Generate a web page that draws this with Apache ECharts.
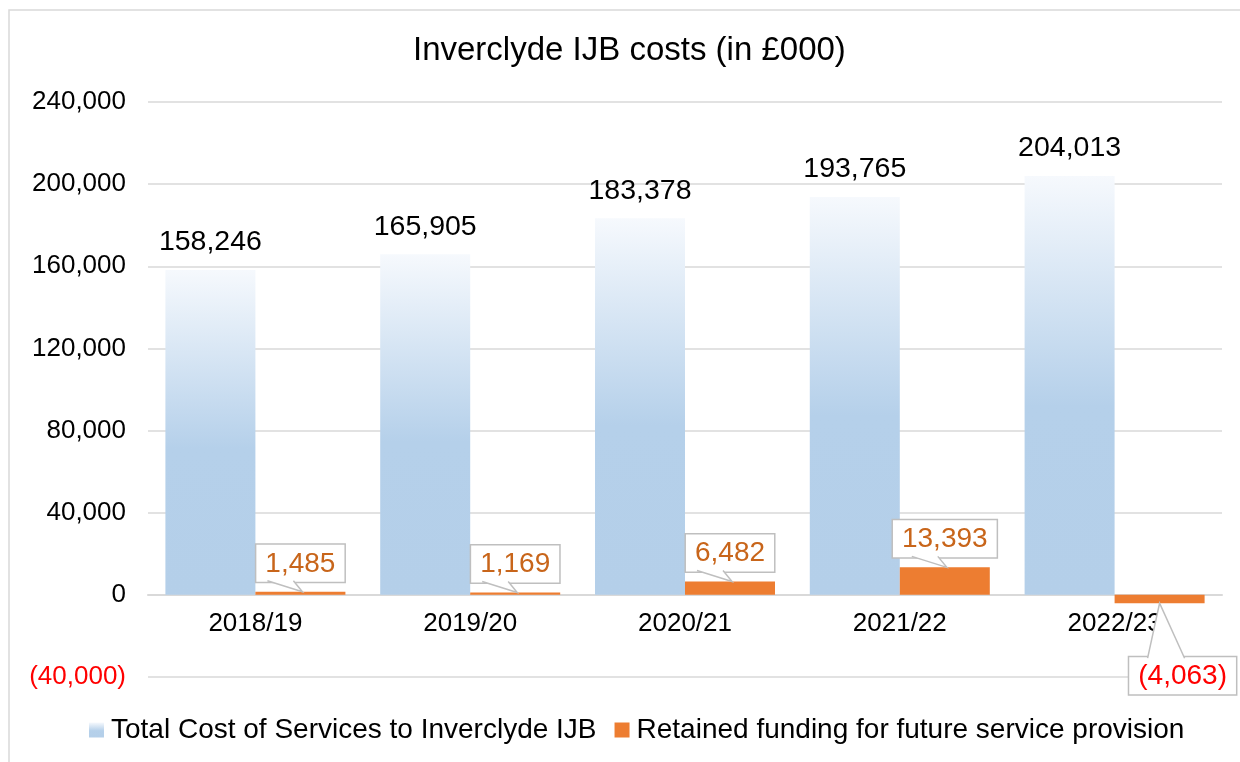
<!DOCTYPE html>
<html>
<head>
<meta charset="utf-8">
<script src="https://cdn.jsdelivr.net/npm/echarts@6/dist/echarts.min.js"></script>
<style>
html,body{margin:0;padding:0;background:#fff;}
#chart{width:1240px;height:762px;}
</style>
</head>
<body>
<div id="chart"></div>
<script>
const categories = ['2018/19', '2019/20', '2020/21', '2021/22', '2022/23'];
const totalCost = [158246, 165905, 183378, 193765, 204013];
const retained = [1485, 1169, 6482, 13393, -4063];
const seriesNames = ['Total Cost of Services to Inverclyde IJB', 'Retained funding for future service provision'];
const yMin = -40000, yMax = 240000, yInterval = 40000;

const FONT = '"Liberation Sans", Arial, sans-serif';
const fmt = v => Math.abs(v).toLocaleString('en-US');
const fmtSigned = v => v < 0 ? '(' + fmt(v) + ')' : fmt(v);

const GRID = {left: 148, right: 18, top: 102, bottom: 85};
const gridH = 762 - GRID.top - GRID.bottom;
const zeroOffset = (0 - yMin) / (yMax - yMin) * gridH;

const POS_DIST = 10, NEG_DIST = 54, NEG_DX = 23;
const BOX_BORDER = '#bfbfbf';

const blueGrad = new echarts.graphic.LinearGradient(0, 0, 0, 1, [
  {offset: 0, color: '#f6f9fd'},
  {offset: 0.55, color: '#b5d0ea'},
  {offset: 1, color: '#b4cfe9'}
]);

const calloutLabel = {
  show: true,
  position: 'top',
  distance: POS_DIST,
  fontFamily: FONT,
  fontSize: 28,
  color: '#c8651a',
  backgroundColor: '#ffffff',
  borderColor: BOX_BORDER,
  borderWidth: 1.5,
  padding: [5, 9, 4, 9],
  formatter: p => fmtSigned(p.value)
};

const retainedData = retained.map(v => v < 0 ? {
  value: v,
  label: {position: 'bottom', distance: NEG_DIST, offset: [NEG_DX, 0], color: '#ff0000'}
} : v);

// callout pointers, anchored on the orange bars through the chart's own scales
function renderPointer(params, api) {
  const i = api.value(0), v = api.value(1);
  const tip = api.coord([i, v]);
  const bw = 90; // bar width
  const cx = tip[0] + bw / 2; // orange bar sits right of category center
  let pts, baseY;
  if (v >= 0) {
    baseY = tip[1] - POS_DIST;
    pts = [[cx - 33, baseY - 1], [cx + 2, tip[1]], [cx - 7, baseY - 1]];
  } else {
    baseY = tip[1] + NEG_DIST;
    pts = [[cx - 12, baseY + 1], [cx, tip[1]], [cx + 25, baseY + 1]];
  }
  return {
    type: 'group',
    children: [
      {type: 'polygon', shape: {points: pts}, style: {fill: '#ffffff', stroke: null}},
      {type: 'polyline', shape: {points: pts}, style: {fill: null, stroke: BOX_BORDER, lineWidth: 1.5}}
    ]
  };
}

const chart = echarts.init(document.getElementById('chart'));
chart.setOption({
  animation: false,
  backgroundColor: '#ffffff',
  textStyle: {fontFamily: FONT},
  graphic: [{
    type: 'rect',
    shape: {x: 9, y: 10, width: 1240, height: 760},
    style: {fill: 'none', stroke: '#d9d9d9', lineWidth: 1.5},
    silent: true
  }],
  title: {
    text: 'Inverclyde IJB costs (in £000)',
    left: 408,
    top: 29,
    textStyle: {fontFamily: FONT, fontSize: 33, fontWeight: 'normal', color: '#000'}
  },
  legend: {
    left: 84,
    top: 711,
    itemWidth: 15,
    itemHeight: 15,
    itemGap: 18,
    icon: 'rect',
    textStyle: {fontFamily: FONT, fontSize: 28, color: '#000', padding: [0, 0, 0, 2]},
    data: seriesNames
  },
  grid: Object.assign({containLabel: false}, GRID),
  xAxis: {
    type: 'category',
    data: categories,
    offset: -zeroOffset,
    axisLine: {show: true, onZero: false, lineStyle: {color: '#d9d9d9', width: 2}},
    axisTick: {show: false},
    axisLabel: {fontFamily: FONT, fontSize: 26, color: '#000', margin: 16}
  },
  yAxis: {
    type: 'value',
    min: yMin,
    max: yMax,
    interval: yInterval,
    axisLine: {show: false},
    axisTick: {show: false},
    splitLine: {lineStyle: {color: '#d9d9d9', width: 1.5}},
    axisLabel: {
      fontFamily: FONT, fontSize: 26, color: '#000', margin: 22,
      formatter: v => v < 0 ? '{neg|(' + fmt(v) + ')}' : fmt(v),
      rich: {neg: {color: '#ff0000', fontFamily: FONT, fontSize: 26}}
    }
  },
  series: [
    {
      name: seriesNames[0],
      type: 'bar',
      data: totalCost,
      barWidth: 90,
      barGap: '0%',
      itemStyle: {color: blueGrad},
      label: {
        show: true, position: 'top', distance: 13,
        fontFamily: FONT, fontSize: 28.5, color: '#000',
        formatter: p => fmtSigned(p.value)
      }
    },
    {
      name: seriesNames[1],
      type: 'bar',
      data: retainedData,
      barWidth: 90,
      barGap: '0%',
      itemStyle: {color: '#ed7d31'},
      label: calloutLabel
    },
    {
      name: 'pointers',
      type: 'custom',
      z: 10,
      silent: true,
      renderItem: renderPointer,
      data: retained.map((v, i) => [i, v]),
      encode: {x: 0, y: 1}
    }
  ]
});
</script>
</body>
</html>
